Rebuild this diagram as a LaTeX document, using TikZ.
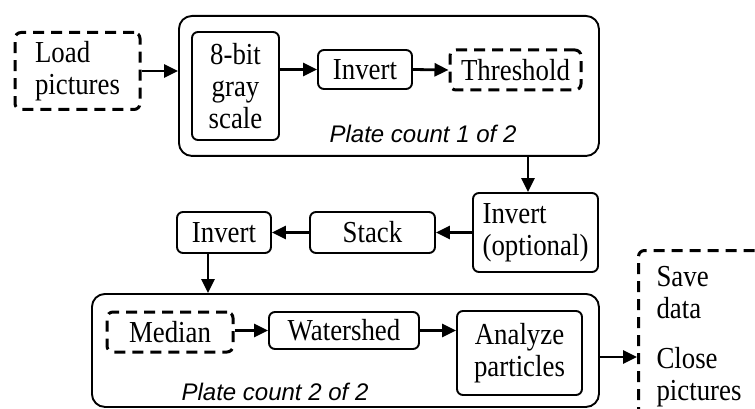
\documentclass[tikz,border=0pt]{standalone}
\usepackage{fontspec}
\setmainfont{Liberation Serif}
\newfontfamily\boxfont[FakeStretch=0.88]{Liberation Serif}
\newfontfamily\platefont{Liberation Sans}
\usetikzlibrary{arrows.meta}
\begin{document}
\begin{tikzpicture}[x=1pt,y=-1pt,
  box/.style={draw, line width=1.9pt, rounded corners=6pt, inner sep=0pt, align=center,
    font=\boxfont\fontsize{30.5}{32}\selectfont},
  dbox/.style={box, line width=3pt, dash pattern=on 11pt off 7pt},
  bigbox/.style={draw, line width=1.9pt, rounded corners=13pt, anchor=north west, inner sep=0pt},
  lab/.style={font=\platefont\itshape\fontsize{24}{28}\selectfont, inner sep=0pt},
  arr/.style={line width=2.8pt, -{Triangle[length=14pt,width=13pt]}}]
\useasboundingbox (0,0) rectangle (755,409);
% containers
\node[bigbox, minimum width=420pt, minimum height=140pt] (outer1) at (178,15) {};
\node[bigbox, minimum width=507pt, minimum height=113pt] (outer2) at (91,293) {};
\node[lab] (plate1) at (423,134) {Plate count 1 of 2};
\node[lab] (plate2) at (275,392) {Plate count 2 of 2};
% boxes
\node[dbox, minimum width=125pt, minimum height=77pt, align=left] (load) at (77.5,71) {Load\\pictures};
\node[box, minimum width=87pt, minimum height=108pt] (gray) at (235.5,86) {8-bit\\gray\\scale};
\node[box, minimum width=94pt, minimum height=39pt] (inv1) at (365,69.5) {Invert};
\node[dbox, minimum width=131pt, minimum height=40pt] (thr) at (515.5,70) {Threshold};
\node[box, minimum width=125pt, minimum height=79pt, align=left] (invopt) at (535.5,232.5) {Invert\\(optional)};
\node[box, minimum width=125pt, minimum height=41pt] (stack) at (372.5,232.5) {Stack};
\node[box, minimum width=94pt, minimum height=41pt] (inv2) at (224,232.5) {Invert};
\node[dbox, minimum width=126pt, minimum height=40pt] (median) at (170,332) {Median};
\node[box, minimum width=150pt, minimum height=37pt] (water) at (344,330.5) {Watershed};
\node[box, minimum width=125pt, minimum height=84pt] (analyze) at (519.5,353) {Analyze\\particles};
\node[dbox, anchor=north west, align=left, text width=104pt, inner xsep=18pt, minimum height=172pt] (save) at (637,249) {Save\\data\\[18pt]Close\\pictures};
% connectors
\draw[arr] (load.east |- 0,71) -- (outer1.west |- 0,71);
\draw[arr] (gray.east |- inv1.west) -- (inv1.west);
\draw[arr] (inv1.east) -- (thr.west);
\draw[arr] ([xshift=-7.5pt]invopt.north |- outer1.south) -- ([xshift=-7.5pt]invopt.north);
\draw[arr] (invopt.west) -- (stack.east);
\draw[arr] (stack.west) -- (inv2.east);
\draw[arr] ([xshift=-16pt]inv2.south) -- ([xshift=-16pt]inv2.south |- outer2.north);
\draw[arr] (median.east |- water.west) -- (water.west);
\draw[arr] (water.east) -- (water.east -| analyze.west);
\draw[arr] (outer2.east |- 0,357) -- (save.west |- 0,357);
\end{tikzpicture}
\end{document}
